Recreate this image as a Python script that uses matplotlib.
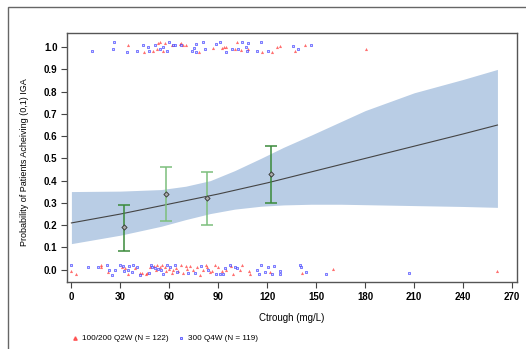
import numpy as np
import matplotlib.pyplot as plt
from matplotlib.patches import Rectangle
from matplotlib.lines import Line2D

plt.rcParams['font.family'] = ['Liberation Sans', 'DejaVu Sans']

# Observed responders / non-responders (jittered around 1 and 0)
red_top_x = [34.8, 44.6, 50.2, 52.4, 52.8, 54.5, 56.1, 57.4, 61.5, 66.3, 66.9, 68.4, 70.5,
             78.3, 86.9, 92, 93.6, 95, 100.2, 101.2, 103.8, 108, 117, 123, 125.7, 127.7,
             137, 142.9, 180.3]
red_top_y = [1.01, 0.979, 0.982, 0.99, 1.018, 1.022, 0.982, 1.018, 1.012, 1.016, 1.018, 1.01,
             1.01, 0.977, 0.996, 0.996, 1.003, 1.003, 0.99, 1.022, 0.988, 0.99, 0.977, 0.98,
             1.003, 1.006, 0.985, 1.01, 0.993]
blue_top_x = [12.4, 25.9, 25.3, 34, 40.3, 44, 47.1, 47.3, 51.2, 54.5, 55.9, 58.6, 60, 62.2,
              63.2, 67.4, 73.6, 75.2, 76.2, 76.6, 80.7, 81.7, 88.5, 91, 95, 98.2, 102.2,
              104.6, 107, 107.3, 108, 114, 116, 120.6, 136, 139, 147]
blue_top_y = [0.982, 1.023, 0.993, 0.979, 0.985, 1.008, 1.0, 0.982, 1.01, 0.99, 1.002, 0.982,
              1.022, 1.008, 1.008, 1.01, 0.985, 0.995, 0.979, 1.015, 1.022, 0.993, 1.016,
              1.022, 0.979, 0.993, 0.99, 1.022, 1.0, 0.982, 1.018, 0.982, 1.022, 0.985,
              1.006, 0.993, 1.01]
red_bot_x = [0, 3, 18, 18, 22.6, 30.7, 33, 34.8, 38.8, 42.3, 43.3, 45.4, 46.4, 48, 50.5,
             51.8, 52.6, 54.2, 55.7, 57.1, 57.7, 59.6, 61.4, 62.2, 63.9, 65.3, 67, 68.6, 70,
             71, 72.8, 74.2, 77, 78.8, 80.6, 82.2, 83.3, 85, 86, 87.8, 90, 92, 95, 98, 98.8,
             103, 104.8, 108.8, 109.4, 121.4, 141.2, 160, 261]
red_bot_y = [-0.008, -0.02, 0.02, 0.01, -0.01, 0.01, 0.007, -0.02, 0.008, -0.017, -0.015,
             -0.02, -0.014, 0.01, 0.018, -0.002, 0.022, 0.012, 0.02, 0.01, -0.007, 0.003,
             -0.017, -0.002, 0.008, -0.004, 0.023, -0.014, 0.018, 0.005, 0.018, -0.002, 0.01,
             -0.024, -0.002, 0.023, 0.01, -0.012, -0.005, 0.02, 0.01, -0.008, -0.002, 0.018,
             -0.02, -0.002, 0.022, -0.007, -0.02, -0.01, -0.015, 0.005, -0.008]
blue_bot_x = [0, 10, 16, 21.5, 23, 25, 27, 30, 31.5, 32, 34.4, 35.4, 37, 38, 40.4, 42.3,
              47.8, 48.9, 49.5, 51, 53.2, 55, 56.3, 58.8, 60.4, 63.3, 64.5, 71.5, 76, 79.5,
              83.7, 88.8, 91, 93, 94, 97, 100.4, 101.7, 114, 115, 116.2, 118.6, 120.3, 122.8,
              124.3, 127.9, 127.9, 140.3, 140.6, 143.8, 156, 207]
blue_bot_y = [0.02, 0.01, 0.01, 0.023, -0.002, -0.025, 0, 0.022, 0.017, -0.005, 0, 0.015,
              -0.01, 0.023, 0.012, -0.023, -0.015, 0.023, 0.012, 0.007, 0.003, -0.002, -0.02,
              0.02, 0.012, 0.022, -0.01, -0.015, -0.015, 0.017, 0, -0.02, -0.02, -0.02, 0.008,
              0.023, 0.012, 0.008, 0, -0.02, 0.023, -0.01, 0.012, -0.02, 0.015, -0.007, -0.02,
              0.02, 0.012, -0.012, -0.02, -0.015]

# Logistic fit with 95% band
fit_x = [0, 30, 60, 90, 120, 150, 180, 210, 240, 261]
fit_p = [0.21, 0.25, 0.295, 0.34, 0.39, 0.445, 0.50, 0.555, 0.61, 0.65]
band_x = [0, 30, 55, 70, 85, 100, 116, 130, 147, 165, 180, 210, 240, 261]
band_lo = [0.117, 0.155, 0.195, 0.225, 0.252, 0.272, 0.285, 0.291, 0.294, 0.294, 0.292,
           0.288, 0.284, 0.28]
band_hi = [0.351, 0.353, 0.36, 0.375, 0.40, 0.445, 0.50, 0.55, 0.605, 0.665, 0.715,
           0.795, 0.855, 0.90]

# Observed proportions by Ctrough quartile
q_x = [32, 58, 83, 122]
q_p = [0.19, 0.34, 0.32, 0.43]
q_lo = [0.085, 0.22, 0.20, 0.30]
q_hi = [0.29, 0.46, 0.44, 0.555]
q_col = ['#3a8a3a', '#7cbf7c', '#7cbf7c', '#3a8a3a']

fig = plt.figure(figsize=(5.26, 3.49), dpi=100)
ax = fig.add_axes([0.128, 0.191, 0.854, 0.714])

ax.fill_between(band_x, band_lo, band_hi, color='#b9cde5', lw=0, zorder=1)
ax.plot(fit_x, fit_p, color='#444444', lw=0.8, zorder=2)

for x, p, lo, hi, c in zip(q_x, q_p, q_lo, q_hi, q_col):
    ax.errorbar(x, p, yerr=[[p - lo], [hi - p]], fmt='none', ecolor=c, elinewidth=1.1,
                capsize=4, capthick=1.1, zorder=3)
ax.scatter(q_x, q_p, marker='D', s=7, facecolor='#aaaaaa', edgecolor='#333333', lw=0.6, zorder=4)

ax.scatter(red_top_x + red_bot_x, red_top_y + red_bot_y, marker='^', s=5,
           color='#ff3333', alpha=0.7, lw=0, zorder=5)
ax.scatter(blue_top_x + blue_bot_x, blue_top_y + blue_bot_y, marker='s', s=3,
           facecolor='#ccccff', edgecolor='#3333ff', lw=0.5, alpha=0.85, zorder=5)

ax.set_xlim(-2.5, 272.7)
ax.set_ylim(-0.057, 1.063)
ax.set_xticks(np.arange(0, 271, 30))
ax.set_yticks(np.arange(0, 1.01, 0.1))
ax.set_yticklabels([f'{v:.1f}' for v in np.arange(0, 1.01, 0.1)])
ax.tick_params(labelsize=7, length=4, width=0.8, color='#444444', pad=3)
for lab in ax.get_xticklabels() + ax.get_yticklabels():
    lab.set_fontweight('bold')
for s in ax.spines.values():
    s.set_color('#555555')
    s.set_linewidth(1.0)

ax.set_xlabel('Ctrough (mg/L)', fontsize=7, labelpad=8)
ax.set_ylabel('Probability of Patients Acheiving (0,1) IGA', fontsize=6.5)
ax.yaxis.set_label_coords(-0.085, 0.483)

# outer frame
fig.patches.append(Rectangle((8 / 526, -0.2), 1.2, 1.2 - 6.7 / 349, transform=fig.transFigure,
                             fill=False, edgecolor='#666666', lw=1.0))

handles = [Line2D([], [], ls='none', marker='^', ms=2.5, color='#ff3333', alpha=0.7),
           Line2D([], [], ls='none', marker='s', ms=2, markerfacecolor='#ccccff',
                  markeredgecolor='#3333ff', markeredgewidth=0.5)]
fig.legend(handles, ['100/200 Q2W (N = 122)', '300 Q4W (N = 119)'], loc='center left',
           bbox_to_anchor=(0.12, 0.03), ncol=2, frameon=False, fontsize=5.9,
           handletextpad=0.4, columnspacing=1.0, handlelength=1)

fig.savefig('out.png', dpi=100)
